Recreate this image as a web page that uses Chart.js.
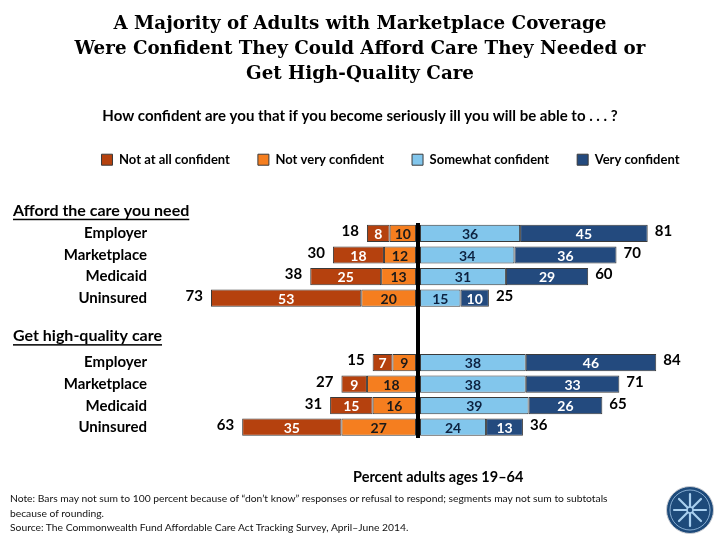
<!DOCTYPE html>
<html>
<head>
<meta charset="utf-8">
<script src="https://cdn.jsdelivr.net/npm/chart.js@4.4.1/dist/chart.umd.min.js"></script>
<style>
  body { margin: 0; background: #fff; }
  #wrap { position: relative; width: 720px; height: 540px; overflow: hidden; }
  #chart { position: absolute; left: 0; top: 0; }
  .xtitle { position: absolute; left: 353px; top: 468px; font: bold 14.5px Lato, sans-serif; color: #000; white-space: nowrap; }
  .note { position: absolute; left: 10px; top: 491px; font: 10.3px/14.5px Lato, sans-serif; color: #111; white-space: nowrap; }
  .logo { position: absolute; left: 665px; top: 485px; }
</style>
</head>
<body>
<div id="wrap">
  <canvas id="chart" width="720" height="540"></canvas>
  <div class="xtitle">Percent adults ages 19–64</div>
  <div class="note">Note: Bars may not sum to 100 percent because of “don’t know” responses or refusal to respond; segments may not sum to subtotals<br>because of rounding.<br>Source: The Commonwealth Fund Affordable Care Act Tracking Survey, April–June 2014.</div>
  <svg class="logo" width="50" height="50" viewBox="-25 -25 50 50">
    <circle r="23.5" fill="#1d4a7a" stroke="#c9ccd2" stroke-width="1"/>
    <circle r="20" fill="none" stroke="#9fc4e6" stroke-width="0.8"/>
    <g stroke="#a9d0f0" stroke-width="2.2" stroke-linecap="round">
      <line x1="0" y1="-16" x2="0" y2="16"/><line x1="-16" y1="0" x2="16" y2="0"/>
      <line x1="-11" y1="-11" x2="11" y2="11"/><line x1="-11" y1="11" x2="11" y2="-11"/>
    </g>
    <circle r="3" fill="#1d4a7a" stroke="#a9d0f0" stroke-width="1.5"/>
  </svg>
</div>
<script>
// survey groups and rows
const groups = ["Afford the care you need", "Get high-quality care"];
const plans = ["Employer", "Marketplace", "Medicaid", "Uninsured"];

// values per row: afford (4 rows) then quality (4 rows)
const notAtAll = [8, 18, 25, 53, 7, 9, 15, 35];
const notVery = [10, 12, 13, 20, 9, 18, 16, 27];
const somewhat = [36, 34, 31, 15, 38, 38, 39, 24];
const very = [45, 36, 29, 10, 46, 33, 26, 13];
const totalNotConfident = [18, 30, 38, 73, 15, 27, 31, 63];
const totalConfident = [81, 70, 60, 25, 84, 71, 65, 36];

const colors = {
  notAtAll: "#b5410e",
  notVery: "#f57e1f",
  somewhat: "#82c6ec",
  very: "#234a7e",
};

// two empty rows between the groups for the second heading
const SPACER = 2;
const labels = [...plans, ...Array(SPACER).fill(""), ...plans];
const withGap = (arr, sign) => [
  ...arr.slice(0, 4).map((v) => v * sign),
  ...Array(SPACER).fill(null),
  ...arr.slice(4).map((v) => v * sign),
];
const rowIndex = (i) => (i < 4 ? i : i + SPACER);

const font = "Lato, sans-serif";

// inner segment numbers, totals and group headings
const labelPlugin = {
  id: "barLabels",
  afterLayout(chart) {
    // legend sits a bit right of centre in the original
    chart.legend.left += 30.5;
    chart.legend.right += 30.5;
  },
  afterDatasetsDraw(chart) {
    const ctx = chart.ctx;
    const x = chart.scales.x;
    const y = chart.scales.y;
    ctx.save();
    ctx.textBaseline = "middle";
    ctx.textAlign = "center";
    ctx.font = "bold 14px " + font;
    chart.data.datasets.forEach((ds, di) => {
      const meta = chart.getDatasetMeta(di);
      meta.data.forEach((bar, i) => {
        const v = ds.data[i];
        if (v === null) return;
        ctx.fillStyle = ds.textColor;
        ctx.fillText(Math.abs(v), (bar.x + bar.base) / 2, bar.y + 1);
      });
    });

    ctx.font = "bold 15px " + font;
    ctx.fillStyle = "#000";
    totalNotConfident.forEach((t, i) => {
      const r = rowIndex(i);
      const left = x.getPixelForValue(-(notAtAll[i] + notVery[i]));
      const right = x.getPixelForValue(somewhat[i] + very[i]);
      const py = y.getPixelForValue(r) - 2;
      ctx.textAlign = "right";
      ctx.fillText(t, left - 8, py);
      ctx.textAlign = "left";
      ctx.fillText(totalConfident[i], right + 7, py);
    });

    ctx.font = "bold 16px " + font;
    ctx.textAlign = "left";
    const heads = [chart.chartArea.top - 12, y.getPixelForValue(3 + SPACER) - 5];
    groups.forEach((g, gi) => {
      const hy = heads[gi];
      ctx.fillText(g, 13, hy);
      const w = ctx.measureText(g).width;
      ctx.fillRect(13, hy + 8, w, 1.5);
    });
    ctx.restore();
  },
};

// legend order differs from stacking order
const legendRank = [1, 0, 2, 3];

new Chart(document.getElementById("chart"), {
  type: "bar",
  data: {
    labels: labels,
    datasets: [
      { label: "Not very confident", data: withGap(notVery, -1), backgroundColor: colors.notVery, textColor: "#1a1a1a" },
      { label: "Not at all confident", data: withGap(notAtAll, -1), backgroundColor: colors.notAtAll, textColor: "#fff" },
      { label: "Somewhat confident", data: withGap(somewhat, 1), backgroundColor: colors.somewhat, textColor: "#0d2240" },
      { label: "Very confident", data: withGap(very, 1), backgroundColor: colors.very, textColor: "#fff" },
    ].map((d) => ({
      ...d,
      borderColor: "#3a3a3a",
      borderWidth: 1,
      borderSkipped: false,
      barPercentage: 0.8,
      categoryPercentage: 1,
    })),
  },
  options: {
    responsive: false,
    animation: false,
    indexAxis: "y",
    layout: { padding: { left: 15, right: 15, bottom: 102 } },
    plugins: {
      title: {
        display: true,
        text: [
          "A Majority of Adults with Marketplace Coverage",
          "Were Confident They Could Afford Care They Needed or",
          "Get High-Quality Care",
        ],
        color: "#000",
        font: { family: "'DejaVu Serif', serif", size: 18.3, weight: "bold", lineHeight: 1.37 },
        padding: { top: 12, bottom: 20 },
      },
      subtitle: {
        display: true,
        text: "How confident are you that if you become seriously ill you will be able to . . . ?",
        color: "#000",
        font: { family: font, size: 15, weight: "bold" },
        padding: { top: 0, bottom: 0 },
      },
      legend: {
        position: "top",
        labels: {
          boxWidth: 11,
          boxHeight: 11,
          padding: 28,
          color: "#000",
          font: { family: font, size: 13, weight: "bold" },
          sort: (a, b) => legendRank[a.datasetIndex] - legendRank[b.datasetIndex],
        },
      },
      tooltip: { enabled: false },
    },
    scales: {
      x: {
        position: "top",
        stacked: true,
        min: -94.5,
        max: 101.2,
        afterFit: (scale) => { scale.height = 46.5; },
        ticks: { display: false, stepSize: 10 },
        border: { display: false },
        grid: {
          drawTicks: false,
          color: (c) => (c.tick && c.tick.value === 0 ? "#000" : "rgba(0,0,0,0)"),
          lineWidth: (c) => (c.tick && c.tick.value === 0 ? 4 : 0),
        },
      },
      y: {
        stacked: true,
        afterFit: (scale) => { scale.width = 135; },
        grid: { display: false },
        border: { display: false },
        ticks: { color: "#000", padding: -5, font: { family: font, size: 15, weight: "bold" } },
      },
    },
  },
  plugins: [labelPlugin],
});
</script>
</body>
</html>
